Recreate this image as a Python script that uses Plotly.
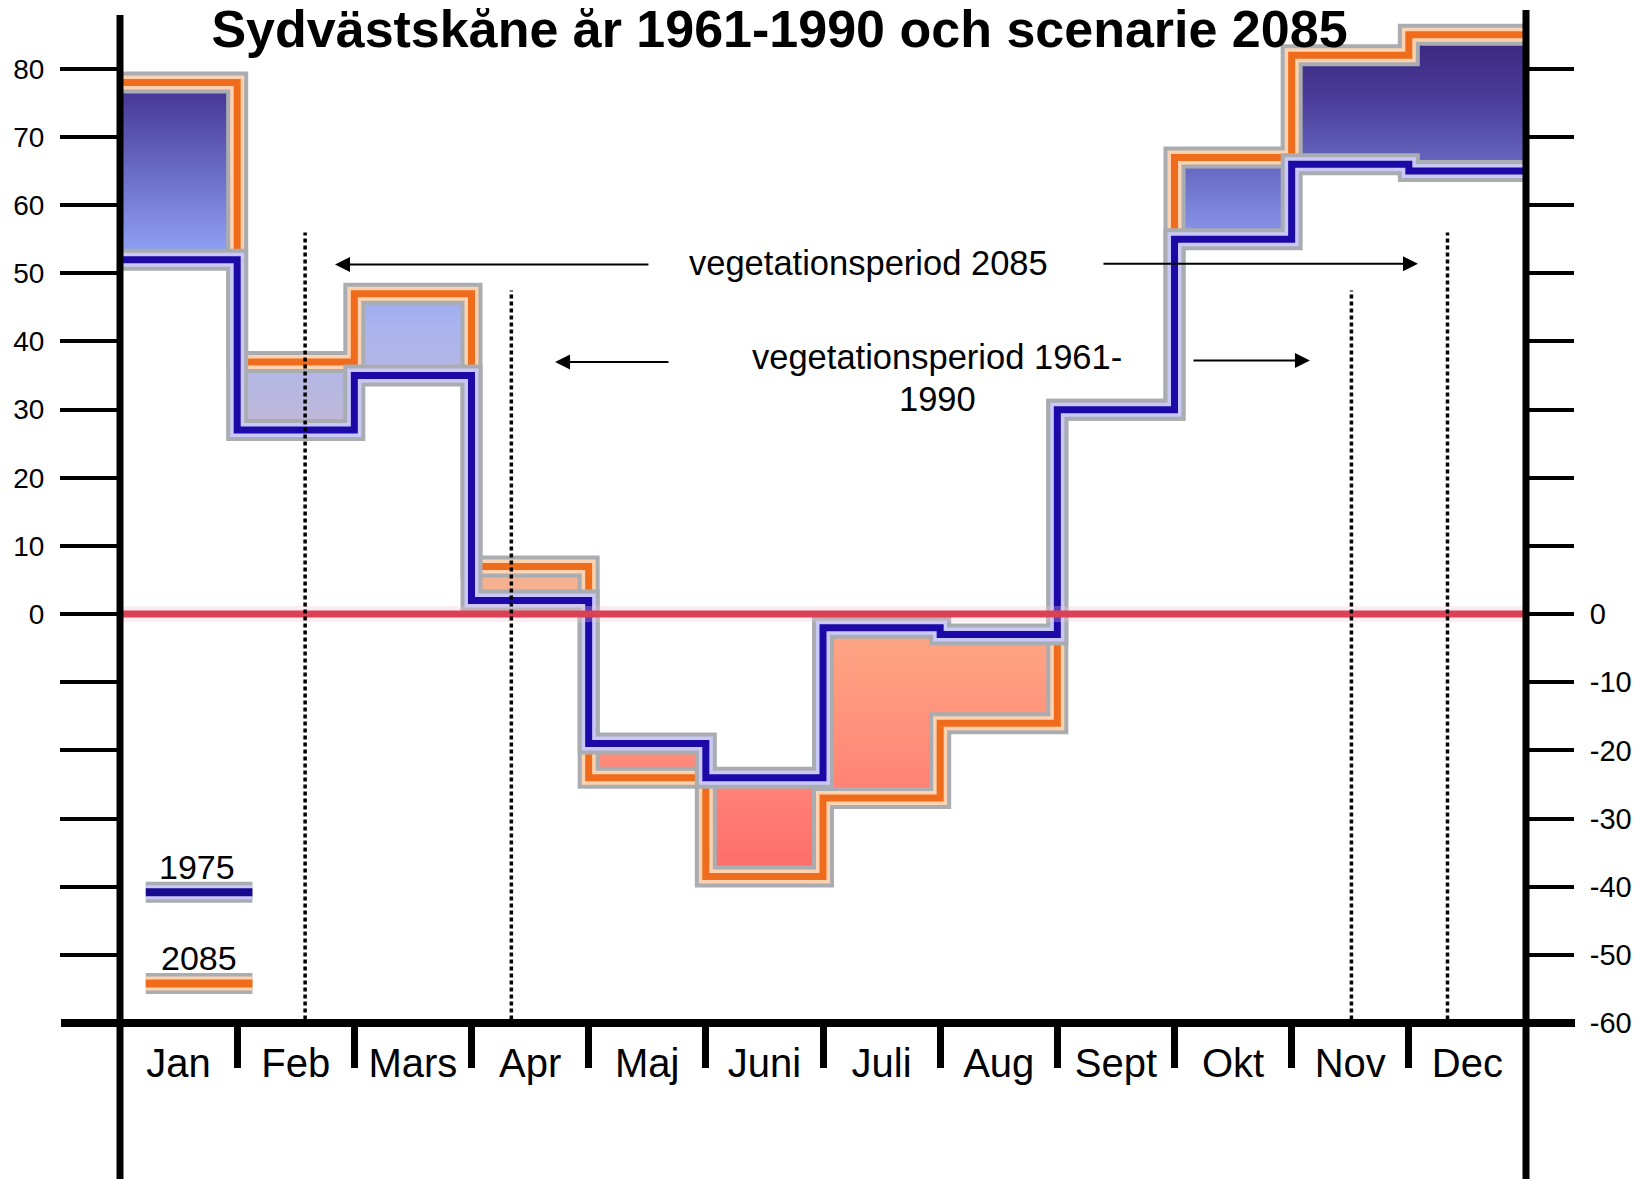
import plotly.graph_objects as go

# ---------------- data ----------------
months = ["Jan", "Feb", "Mars", "Apr", "Maj", "Juni", "Juli", "Aug", "Sept", "Okt", "Nov", "Dec"]
v1975 = [52, 27, 35, 2, -19, -24, -2, -3, 30, 55, 66, 65]
v2085 = [78, 37, 47, 7, -24, -38.5, -27, -16, 30, 67, 82, 85]
veg_2085 = [1.58, 11.33]          # start / end of vegetation period 2085 (month units)
veg_1961 = [3.34, 10.51]          # start / end of vegetation period 1961-1990
veg_2085_top = 56
veg_1961_top = 47.5
left_ticks = list(range(-50, 81, 10))
left_labels = [str(v) if v >= 0 else "" for v in left_ticks]
right_ticks = list(range(-60, 81, 10))
right_labels = [str(v) if v <= 0 else "" for v in right_ticks]
title_text = "Sydvästskåne år 1961-1990 och scenarie 2085"
legend_names = ["1975", "2085"]

# ---------------- style ----------------
FONT = "Liberation Sans, Arial, Helvetica, sans-serif"
grad_vals = [-40, -30, -20, -8, 4, 18, 30, 42, 54, 64, 75, 87]
grad_cols = ["#ff6868", "#ff7a72", "#ff8c7a", "#ff9e80", "#f6b08e", "#dcb4bc",
             "#bcb8dc", "#aab4ee", "#8c9cf0", "#6c70c8", "#4c3e9c", "#352078"]
lo, hi = grad_vals[0], grad_vals[-1]
colorscale = [[(v - lo) / (hi - lo), c] for v, c in zip(grad_vals, grad_cols)]

GRAY = "#a9acb0"
BLUE = "#1d0aa6"
LAV = "#cac8f8"
ORANGE = "#ef6c1c"
PEACH = "#fcd2b0"

# ---------------- geometry ----------------
W, H = 1646, 1179
OFF = 8                     # page offset of the figure (body margin)
PPU = 6.814                 # pixels per unit on the y axis
ZERO_PAGE = 614             # page y of value 0
LEFT_PAGE, RIGHT_PAGE = 120, 1526
L = LEFT_PAGE - OFF
R = W - (RIGHT_PAGE - OFF)
T = 0
bottom_fig = ZERO_PAGE - OFF + 60 * PPU
B = H - bottom_fig
y_top = (ZERO_PAGE - OFF) / PPU
pw, ph = W - L - R, H - T - B


def px_x(p):
    return (p - OFF - L) / pw


def px_y(p):
    return (H - B - (p - OFF)) / ph


fig = go.Figure()

# filled difference between the two periods
fx, fy = [], []
for i, (a, b) in enumerate(zip(v1975, v2085)):
    fx += [i, i + 1, i + 1, i, i, None]
    fy += [a, a, b, b, a, None]
fig.add_trace(go.Scatter(
    x=fx, y=fy, mode="lines", line=dict(width=0), fill="toself",
    fillgradient=dict(type="vertical", colorscale=colorscale, start=lo, stop=hi),
    hoverinfo="skip"))

# step lines
sx = list(range(len(months) + 1))


def step_line(vals, core, light, yaxis="y"):
    sy = list(vals) + [vals[-1]]
    for col, w in [(GRAY, 22), (light, 14), (core, 7)]:
        fig.add_trace(go.Scatter(x=sx, y=sy, mode="lines", line_shape="hv",
                                 line=dict(color=col, width=w), hoverinfo="skip",
                                 yaxis=yaxis))


step_line(v2085, ORANGE, PEACH)
step_line(v1975, BLUE, LAV)

# zero line
fig.add_trace(go.Scatter(x=[0, 12], y=[0, 0], mode="lines",
                         line=dict(color="rgba(240,200,212,0.3)", width=16), hoverinfo="skip"))
fig.add_trace(go.Scatter(x=[0, 12], y=[0, 0], mode="lines",
                         line=dict(color="#dc4055", width=7), hoverinfo="skip"))

# vegetation period dotted lines
for xs, top in [(veg_2085, veg_2085_top), (veg_1961, veg_1961_top)]:
    for xv in xs:
        fig.add_trace(go.Scatter(x=[xv, xv], y=[-59.5, top], mode="lines",
                                 line=dict(color="black", width=3.5, dash="4px,3px"),
                                 hoverinfo="skip"))

# legend samples (on the right-hand axis)
leg_x = [0.22, 1.13]
for name, yv, core, light in [(legend_names[0], -40.8, "#1a0a90", LAV),
                              (legend_names[1], -54.2, ORANGE, PEACH)]:
    for col, w in [(GRAY, 21), (light, 14), (core, 8)]:
        fig.add_trace(go.Scatter(x=leg_x, y=[yv, yv], mode="lines",
                                 line=dict(color=col, width=w), hoverinfo="skip",
                                 yaxis="y2"))

# ---------------- annotations ----------------
ann = []
txt = dict(showarrow=False, xanchor="center", xref="x", yref="y")
vfont = dict(family=FONT, size=34.5, color="black")
lfont = dict(family=FONT, size=34, color="black")
ann.append(dict(x=6.392, y=51.5, yanchor="middle", text="vegetationsperiod 2085", font=vfont, **txt))
ann.append(dict(x=6.973, y=34.7, yanchor="bottom", text="vegetationsperiod 1961-", font=vfont, **txt))
ann.append(dict(x=6.973, y=34.7, yanchor="top", text="1990", font=vfont, **txt))
ann.append(dict(x=0.653, y=-37.1, yanchor="middle", text=legend_names[0], font=lfont, **txt))
ann.append(dict(x=0.678, y=-50.4, yanchor="middle", text=legend_names[1], font=lfont, **txt))

arrow = dict(text="", showarrow=True, arrowhead=2, arrowsize=1.5, arrowwidth=2,
             arrowcolor="black", xref="x", yref="y", axref="x", ayref="y")
ann.append(dict(x=1.835, y=51.3, ax=4.523, ay=51.3, **arrow))
ann.append(dict(x=11.078, y=51.4, ax=8.381, ay=51.4, **arrow))
ann.append(dict(x=3.713, y=37.0, ax=4.694, ay=37.0, **arrow))
ann.append(dict(x=10.156, y=37.2, ax=9.149, ay=37.2, **arrow))

# ---------------- axis frame shapes ----------------
shapes = [
    dict(type="line", xref="paper", yref="paper", x0=0, x1=0, y0=px_y(H + 20), y1=px_y(15),
         line=dict(color="black", width=7)),
    dict(type="line", xref="paper", yref="paper", x0=1, x1=1, y0=px_y(H + 20), y1=px_y(10),
         line=dict(color="black", width=7)),
    dict(type="line", xref="paper", yref="paper", x0=px_x(61), x1=px_x(1575), y0=0, y1=0,
         line=dict(color="black", width=8)),
]

fig.update_layout(
    width=W, height=H,
    margin=dict(l=L, r=R, t=T, b=B, pad=0, autoexpand=False),
    paper_bgcolor="white", plot_bgcolor="white", showlegend=False,
    font=dict(family=FONT, color="black"),
    title=dict(text="<b>" + title_text + "</b>", x=px_x(779.5), xanchor="center", xref="paper",
               y=1 - (29 - OFF) / H, yref="container", yanchor="middle",
               font=dict(family=FONT, size=52, color="black")),
    xaxis=dict(range=[0, 12], showgrid=False, zeroline=False, showline=False,
               tickmode="array", tickvals=[i + 0.5 for i in range(12)], ticktext=months,
               ticks="", tickfont=dict(size=40), ticklabelstandoff=13,
               minor=dict(tickmode="array", tickvals=list(range(1, 12)), ticks="outside",
                          ticklen=44, tickwidth=7, tickcolor="black", showgrid=False)),
    yaxis=dict(range=[-60, y_top], showgrid=False, zeroline=False, showline=False,
               tickmode="array", tickvals=left_ticks, ticktext=left_labels,
               ticks="outside", ticklen=59, tickwidth=4, tickcolor="black",
               tickfont=dict(size=28), ticklabelstandoff=10),
    yaxis2=dict(range=[-60, y_top], overlaying="y", side="right", showgrid=False,
                zeroline=False, showline=False, tickmode="array", tickvals=right_ticks,
                ticktext=right_labels, ticks="outside", ticklen=47, tickwidth=4,
                tickcolor="black", tickfont=dict(size=29), ticklabelstandoff=10),
    annotations=ann, shapes=shapes,
)

fig.write_html("out.html")
